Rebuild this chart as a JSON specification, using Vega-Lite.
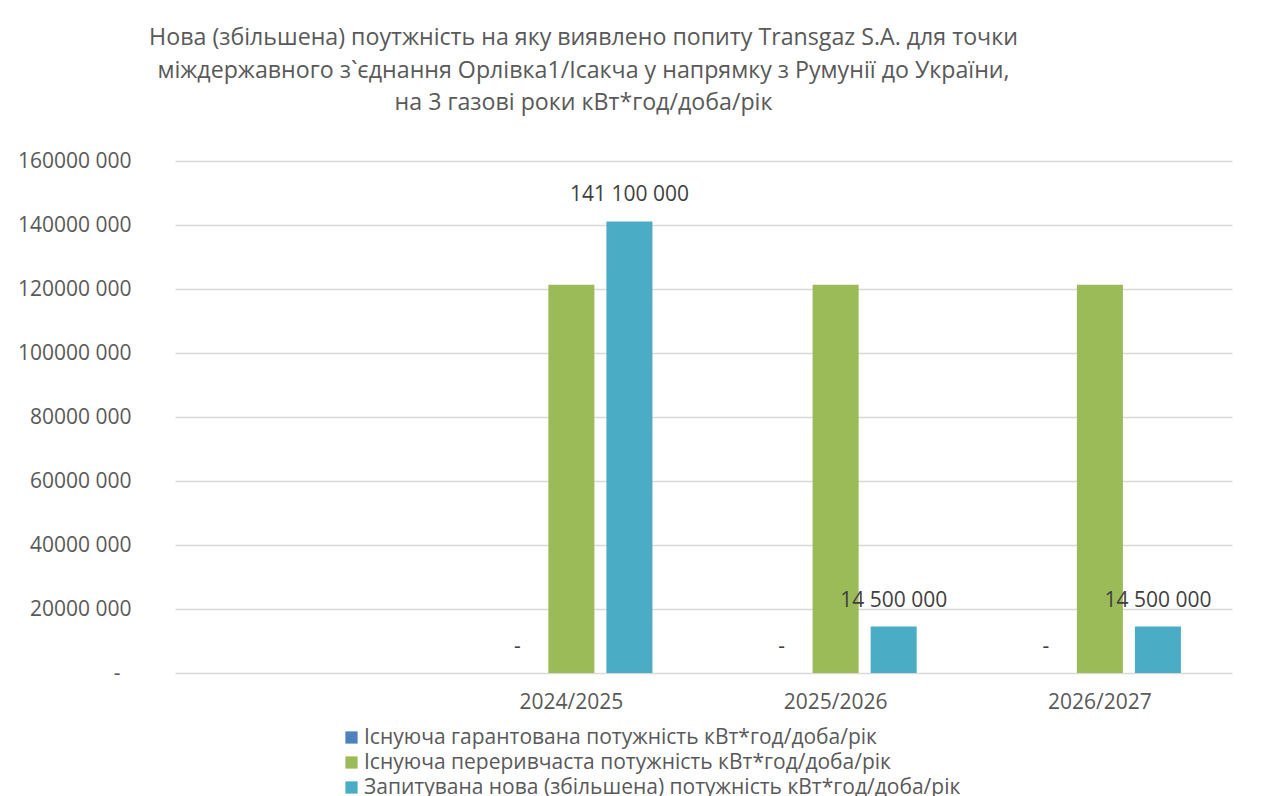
{
  "$schema": "https://vega.github.io/schema/vega-lite/v6.json",
  "width": 1057,
  "height": 512,
  "autosize": {"type": "none"},
  "padding": {"left": 175, "top": 161, "right": 43, "bottom": 123},
  "background": "white",
  "config": {"font": "Open Sans", "view": {"stroke": null}},
  "title": {
    "text": [
      "Нова (збільшена) поутжність на яку виявлено попиту Transgaz S.A. для точки",
      "міждержавного з`єднання Орлівка1/Ісакча у напрямку з Румунії до України,",
      "на 3 газові роки кВт*год/доба/рік"
    ],
    "fontSize": 23.2,
    "fontWeight": "normal",
    "color": "#595959",
    "anchor": "middle",
    "dx": -120,
    "offset": 34.5,
    "lineHeight": 32.5
  },
  "data": {
    "values": [
      {"year": "2024/2025", "series": "Існуюча гарантована потужність кВт*год/доба/рік", "value": 0, "label": "-"},
      {"year": "2024/2025", "series": "Існуюча переривчаста потужність кВт*год/доба/рік", "value": 121300000, "label": ""},
      {"year": "2024/2025", "series": "Запитувана нова (збільшена) потужність  кВт*год/доба/рік", "value": 141100000, "label": "141 100 000"},
      {"year": "2025/2026", "series": "Існуюча гарантована потужність кВт*год/доба/рік", "value": 0, "label": "-"},
      {"year": "2025/2026", "series": "Існуюча переривчаста потужність кВт*год/доба/рік", "value": 121300000, "label": ""},
      {"year": "2025/2026", "series": "Запитувана нова (збільшена) потужність  кВт*год/доба/рік", "value": 14500000, "label": "14 500 000"},
      {"year": "2026/2027", "series": "Існуюча гарантована потужність кВт*год/доба/рік", "value": 0, "label": "-"},
      {"year": "2026/2027", "series": "Існуюча переривчаста потужність кВт*год/доба/рік", "value": 121300000, "label": ""},
      {"year": "2026/2027", "series": "Запитувана нова (збільшена) потужність  кВт*год/доба/рік", "value": 14500000, "label": "14 500 000"}
    ]
  },
  "encoding": {
    "x": {
      "field": "year",
      "type": "nominal",
      "sort": null,
      "scale": {"domain": [" ", "2024/2025", "2025/2026", "2026/2027"], "paddingInner": 0, "paddingOuter": 0},
      "axis": {"title": null, "labelAngle": 0, "labelFontSize": 21, "labelColor": "#595959", "ticks": false, "domain": false, "labelPadding": 18}
    },
    "xOffset": {
      "field": "series",
      "type": "nominal",
      "sort": null,
      "scale": {
        "domain": [
          "Існуюча гарантована потужність кВт*год/доба/рік",
          "Існуюча переривчаста потужність кВт*год/доба/рік",
          "Запитувана нова (збільшена) потужність  кВт*год/доба/рік"
        ],
        "paddingInner": 0.207,
        "paddingOuter": 0.88
      }
    },
    "y": {
      "field": "value",
      "type": "quantitative",
      "scale": {"domain": [0, 160000000], "nice": false},
      "axis": {
        "title": null,
        "values": [0, 20000000, 40000000, 60000000, 80000000, 100000000, 120000000, 140000000, 160000000],
        "labelExpr": "datum.value == 0 ? '-' : format(datum.value / 1000, 'd') + ' 000'",
        "labelFontSize": 21,
        "labelColor": "#595959",
        "ticks": false,
        "domain": false,
        "labelPadding": {"condition": {"test": "datum.value == 0", "value": 55}, "value": 44},
        "gridColor": "#D9D9D9",
        "gridWidth": 1.5
      }
    }
  },
  "layer": [
    {
      "mark": {"type": "bar"},
      "encoding": {
        "color": {
          "field": "series",
          "type": "nominal",
          "scale": {
            "domain": [
              "Існуюча гарантована потужність кВт*год/доба/рік",
              "Існуюча переривчаста потужність кВт*год/доба/рік",
              "Запитувана нова (збільшена) потужність  кВт*год/доба/рік"
            ],
            "range": ["#4F81BD", "#9BBB59", "#4BACC6"]
          },
          "legend": {
            "title": null,
            "orient": "none",
            "legendX": 166,
            "legendY": 566,
            "direction": "vertical",
            "symbolType": "square",
            "symbolSize": 150,
            "symbolStrokeWidth": 0,
            "labelFontSize": 21,
            "labelColor": "#595959",
            "labelOffset": 2,
            "rowPadding": 3,
            "labelLimit": 800
          }
        }
      }
    },
    {
      "transform": [{"filter": "datum.label != '' && datum.value > 0"}],
      "mark": {"type": "text", "dy": -26, "baseline": "middle", "fontSize": 21, "color": "#404040"},
      "encoding": {"text": {"field": "label"}}
    },
    {
      "transform": [{"filter": "datum.value == 0"}],
      "mark": {"type": "text", "dy": -26, "dx": 4, "baseline": "middle", "fontSize": 21, "color": "#404040"},
      "encoding": {"text": {"field": "label"}}
    }
  ]
}
